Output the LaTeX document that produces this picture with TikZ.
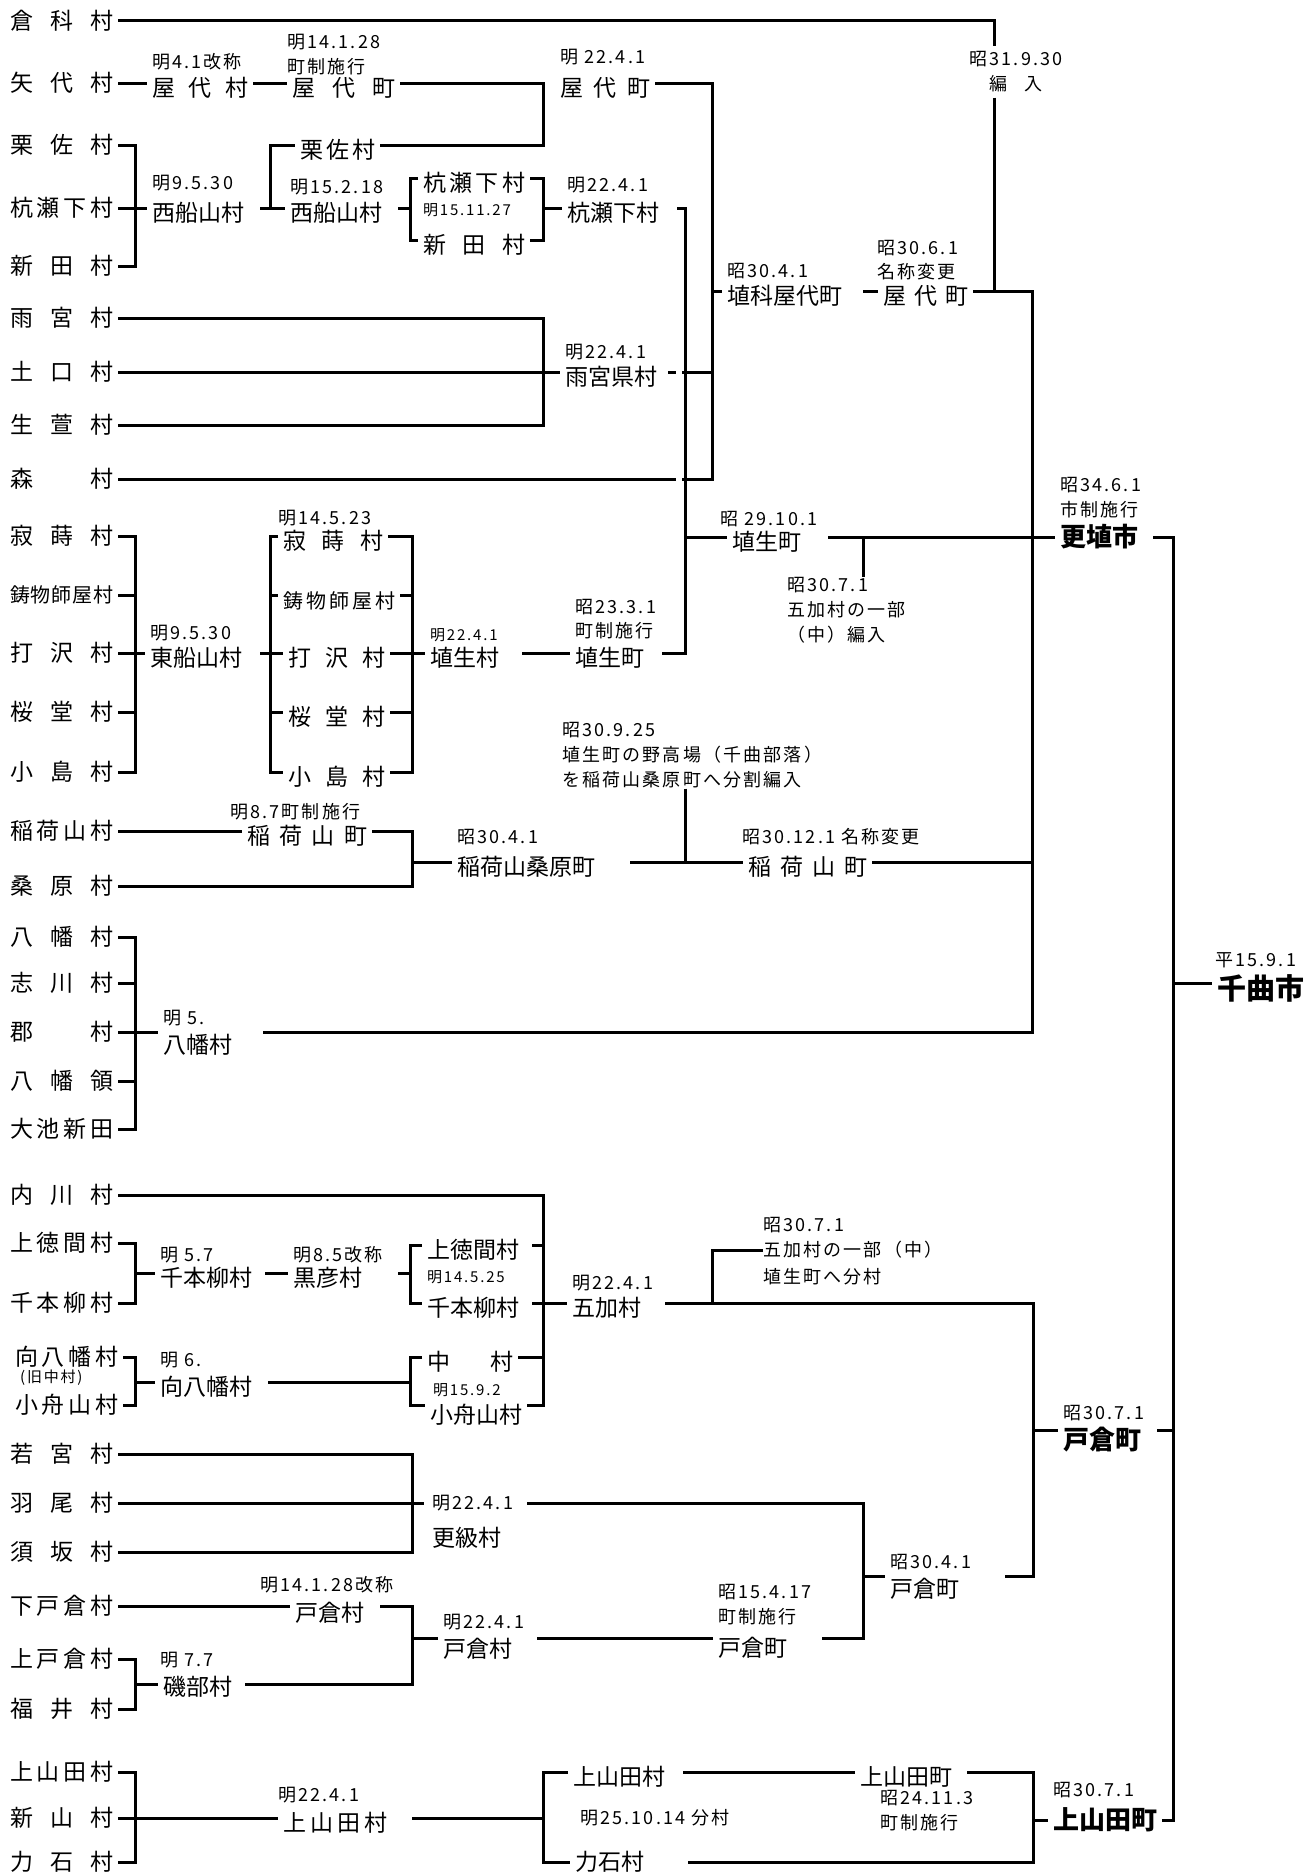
\documentclass[tikz,border=0pt]{standalone}
\usepackage{fontspec}
\setmainfont{Noto Sans CJK JP}
\newfontfamily\hizukefont{Noto Sans CJK JP}[LetterSpace=12]
\newcommand{\hari}[2]{\makebox[#1][s]{#2}}
\newcommand{\aki}[1]{\hspace*{#1pt}}

\tikzset{
  kyu/.style={anchor=west, inner xsep=5pt, inner ysep=0pt, font=\fontsize{23}{23}\selectfont},
  mura/.style={kyu, text height=26pt, text depth=0pt},
  hizuke/.style={anchor=west, inner sep=0pt, font=\hizukefont\fontsize{18}{25}\selectfont},
  kohizuke/.style={hizuke, font=\hizukefont\fontsize{15}{15}\selectfont},
  shi/.style={anchor=west, inner xsep=5pt, inner ysep=0pt, font=\fontsize{26}{26}\selectfont\bfseries},
  sen/.style={line width=3pt}
}

\begin{document}
\begin{tikzpicture}[x=1pt, y=-1pt]
  \useasboundingbox (0,0) rectangle (1311,1876);

  % Altdoerfer
  \node[kyu] (kurashina) at (5,21) {\hari{103pt}{倉\hfill 科\hfill 村}};
  \node[kyu] (yashiro) at (5,83) {\hari{103pt}{矢\hfill 代\hfill 村}};
  \node[kyu] (kurisa) at (5,145) {\hari{103pt}{栗\hfill 佐\hfill 村}};
  \node[kyu] (kuseshimo) at (5,208) {\hari{103pt}{杭\hfill 瀬\hfill 下\hfill 村}};
  \node[kyu] (shinden) at (5,266) {\hari{103pt}{新\hfill 田\hfill 村}};
  \node[kyu] (amemiya) at (5,318) {\hari{103pt}{雨\hfill 宮\hfill 村}};
  \node[kyu] (tokuchi) at (5,372) {\hari{103pt}{土\hfill 口\hfill 村}};
  \node[kyu] (ikusa) at (5,425) {\hari{103pt}{生\hfill 萱\hfill 村}};
  \node[kyu] (mori) at (5,479) {\hari{103pt}{森\hfill 村}};
  \node[kyu] (jakuji) at (5,536) {\hari{103pt}{寂\hfill 蒔\hfill 村}};
  \node[kyu, font=\fontsize{20}{20}\selectfont] (imoji) at (5,595) {\hari{103pt}{鋳\hfill 物\hfill 師\hfill 屋\hfill 村}};
  \node[kyu] (uchisawa) at (5,653) {\hari{103pt}{打\hfill 沢\hfill 村}};
  \node[kyu] (sakurado) at (5,712) {\hari{103pt}{桜\hfill 堂\hfill 村}};
  \node[kyu] (kojima) at (5,772) {\hari{103pt}{小\hfill 島\hfill 村}};
  \node[kyu] (inariyama) at (5,831) {\hari{103pt}{稲\hfill 荷\hfill 山\hfill 村}};
  \node[kyu] (kuwabara) at (5,886) {\hari{103pt}{桑\hfill 原\hfill 村}};
  \node[kyu] (yawata) at (5,937) {\hari{103pt}{八\hfill 幡\hfill 村}};
  \node[kyu] (shikawa) at (5,983) {\hari{103pt}{志\hfill 川\hfill 村}};
  \node[kyu] (kori) at (5,1032) {\hari{103pt}{郡\hfill 村}};
  \node[kyu] (yawataryo) at (5,1081) {\hari{103pt}{八\hfill 幡\hfill 領}};
  \node[kyu] (oike) at (5,1129) {\hari{103pt}{大\hfill 池\hfill 新\hfill 田}};
  \node[kyu] (uchikawa) at (5,1195) {\hari{103pt}{内\hfill 川\hfill 村}};
  \node[kyu] (kamitokuma) at (5,1243) {\hari{103pt}{上\hfill 徳\hfill 間\hfill 村}};
  \node[kyu] (senbon) at (5,1303) {\hari{103pt}{千\hfill 本\hfill 柳\hfill 村}};
  \node[kyu] (mukou) at (10,1357) {\hari{103pt}{向\hfill 八\hfill 幡\hfill 村}};
  \node[kohizuke] (kyunaka) at (20,1378) {(旧中村)};
  \node[kyu] (kobune) at (10,1405) {\hari{103pt}{小\hfill 舟\hfill 山\hfill 村}};
  \node[kyu] (wakamiya) at (5,1454) {\hari{103pt}{若\hfill 宮\hfill 村}};
  \node[kyu] (hao) at (5,1503) {\hari{103pt}{羽\hfill 尾\hfill 村}};
  \node[kyu] (suzaka) at (5,1552) {\hari{103pt}{須\hfill 坂\hfill 村}};
  \node[kyu] (shimotokura) at (5,1606) {\hari{103pt}{下\hfill 戸\hfill 倉\hfill 村}};
  \node[kyu] (kamitokura) at (5,1659) {\hari{103pt}{上\hfill 戸\hfill 倉\hfill 村}};
  \node[kyu] (fukui) at (5,1709) {\hari{103pt}{福\hfill 井\hfill 村}};
  \node[kyu] (kamiyamada) at (5,1772) {\hari{103pt}{上\hfill 山\hfill 田\hfill 村}};
  \node[kyu] (shinyama) at (5,1818) {\hari{103pt}{新\hfill 山\hfill 村}};
  \node[kyu] (chikaraishi) at (5,1862) {\hari{103pt}{力\hfill 石\hfill 村}};

  % Yashiro
  \node[hizuke] at (152,62) {明4.1改称};
  \node[mura] (yashiroM) at (147,83) {\hari{96pt}{屋\hfill 代\hfill 村}};
  \node[hizuke] at (287,42) {明14.1.28};
  \node[hizuke] at (287,67) {町制施行};
  \node[mura] (yashiroT) at (287,83) {\hari{103pt}{屋\hfill 代\hfill 町}};
  \node[hizuke] at (560,57) {明 22.4.1};
  \node[mura] (yashiroT2) at (555,83) {\hari{90pt}{屋\hfill 代\hfill 町}};
  \node[mura] (kurisa2) at (295,145) {\hari{75pt}{栗\hfill 佐\hfill 村}};
  \node[hizuke] at (152,183) {明9.5.30};
  \node[mura] (nishi1) at (147,208) {西船山村\aki{11}};
  \node[hizuke] at (290,187) {明15.2.18};
  \node[mura] (nishi2) at (285,208) {西船山村\aki{11}};
  \node[mura] (kuse2) at (418,178) {\hari{102pt}{杭\hfill 瀬\hfill 下\hfill 村}};
  \node[kohizuke] at (423,210) {明15.11.27};
  \node[mura] (shinden2) at (418,240) {\hari{102pt}{新\hfill 田\hfill 村}};
  \node[hizuke] at (567,185) {明22.4.1};
  \node[mura] (kuse3) at (562,208) {杭瀬下村\aki{13}};
  \node[hizuke] at (565,352) {明22.4.1};
  \node[mura] (amegata) at (560,372) {雨宮県村\aki{6}};
  \node[hizuke] at (727,271) {昭30.4.1};
  \node[mura] (hanishina) at (722,291) {埴科屋代町\aki{16}};
  \node[hizuke] at (877,248) {昭30.6.1};
  \node[hizuke] at (877,272) {名称変更};
  \node[mura] (yashiroT3) at (878,291) {\hari{85pt}{屋\hfill 代\hfill 町}};
  \node[hizuke, align=center, anchor=center, inner ysep=5pt] (hennyu) at (1016,72) {昭31.9.30\\編\quad 入};

  % Hanyu
  \node[hizuke] at (278,518) {明14.5.23};
  \node[mura] (jakuji2) at (278,536) {\hari{100pt}{寂\hfill 蒔\hfill 村}};
  \node[mura, font=\fontsize{20}{20}\selectfont] (imoji2) at (278,595) {\hari{112pt}{鋳\hfill 物\hfill 師\hfill 屋\hfill 村}};
  \node[mura] (uchisawa2) at (283,653) {\hari{97pt}{打\hfill 沢\hfill 村}};
  \node[mura] (sakurado2) at (283,712) {\hari{97pt}{桜\hfill 堂\hfill 村}};
  \node[mura] (kojima2) at (283,772) {\hari{97pt}{小\hfill 島\hfill 村}};
  \node[hizuke] at (150,633) {明9.5.30};
  \node[mura] (higashi) at (145,653) {東船山村\aki{13}};
  \node[kohizuke] at (430,635) {明22.4.1};
  \node[mura] (hanyuM) at (425,653) {埴生村\aki{18}};
  \node[hizuke] at (575,607) {昭23.3.1};
  \node[hizuke] at (575,631) {町制施行};
  \node[mura] (haniT1) at (570,653) {埴生町\aki{13}};
  \node[hizuke] at (720,519) {昭 29.10.1};
  \node[mura] (haniT2) at (727,537) {埴生町\aki{22}};
  \node[hizuke] (gokaHen1) at (787,585) {昭30.7.1};
  \node[hizuke] at (787,610) {五加村の一部};
  \node[hizuke] at (787,635) {（中）編入};
  \node[hizuke] at (1060,485) {昭34.6.1};
  \node[hizuke] at (1060,510) {市制施行};
  \node[shi] (koushoku) at (1055,537) {更埴市\aki{10}};

  % Inariyama
  \node[hizuke] at (230,812) {明8.7町制施行};
  \node[mura] (inariT) at (242,831) {\hari{120pt}{稲\hfill 荷\hfill 山\hfill 町}};
  \node[hizuke] at (457,837) {昭30.4.1};
  \node[mura] (inakuwa) at (452,862) {稲荷山桑原町\aki{30}};
  \node[hizuke] at (562,730) {昭30.9.25};
  \node[hizuke] at (562,755) {埴生町の野高場（千曲部落）};
  \node[hizuke] (nodaka) at (562,780) {を稲荷山桑原町へ分割編入};
  \node[hizuke] at (742,837) {昭30.12.1 名称変更};
  \node[mura] (inariT2) at (743,862) {\hari{119pt}{稲\hfill 荷\hfill 山\hfill 町}};

  % Yawata
  \node[hizuke] at (163,1018) {明 5.};
  \node[mura] (yawata2) at (158,1040) {八幡村\aki{26}};
  \node[hizuke] at (1215,960) {平15.9.1};
  \node[shi, font=\fontsize{29}{29}\selectfont\bfseries] (chikuma) at (1212,988) {千曲市};

  % Goka
  \node[hizuke] at (160,1255) {明 5.7};
  \node[mura] (senbon2) at (155,1273) {千本柳村\aki{8}};
  \node[hizuke] at (293,1255) {明8.5改称};
  \node[mura] (kurohiko) at (288,1273) {黒彦村\aki{31}};
  \node[mura] (kamitokuma2) at (422,1245) {上徳間村\aki{8}};
  \node[kohizuke] at (427,1277) {明14.5.25};
  \node[mura] (senbon3) at (422,1303) {千本柳村\aki{8}};
  \node[hizuke] at (572,1283) {明22.4.1};
  \node[mura] (gokaM) at (567,1303) {五加村\aki{19}};
  \node[hizuke] at (763,1225) {昭30.7.1};
  \node[hizuke] (gokaBun) at (763,1250) {五加村の一部（中）};
  \node[hizuke] at (763,1277) {埴生町へ分村};
  \node[hizuke] at (160,1360) {明 6.};
  \node[mura] (mukou2) at (155,1382) {向八幡村\aki{11}};
  \node[mura] (naka) at (422,1357) {\hari{86pt}{中\hfill 村}};
  \node[kohizuke] at (433,1390) {明15.9.2};
  \node[mura] (kobune2) at (425,1410) {小舟山村};

  % Tokura
  \node[hizuke, inner xsep=8pt] (sarashinaD) at (424,1503) {明22.4.1\aki{6}};
  \node[mura] (sarashina) at (427,1533) {更級村};
  \node[hizuke] at (890,1562) {昭30.4.1};
  \node[mura] (tokuraT2) at (885,1584) {戸倉町\aki{41}};
  \node[hizuke] at (260,1585) {明14.1.28改称};
  \node[mura] (tokuraM) at (290,1608) {戸倉村\aki{11}};
  \node[hizuke] at (160,1660) {明 7.7};
  \node[mura] (isobe) at (158,1682) {磯部村\aki{8}};
  \node[hizuke] at (443,1622) {明22.4.1};
  \node[mura] (tokuraM2) at (438,1644) {戸倉村\aki{20}};
  \node[hizuke] at (718,1592) {昭15.4.17};
  \node[hizuke] at (718,1617) {町制施行};
  \node[mura] (tokuraT1) at (713,1643) {戸倉町\aki{30}};
  \node[hizuke] at (1063,1413) {昭30.7.1};
  \node[shi] (tokuraF) at (1058,1440) {戸倉町\aki{11}};

  % Kamiyamada
  \node[hizuke] at (278,1795) {明22.4.1};
  \node[mura] (yamadaM) at (278,1818) {\hari{104pt}{上\hfill 山\hfill 田\hfill 村}\aki{20}};
  \node[mura] (yamadaM2) at (568,1772) {上山田村\aki{13}};
  \node[hizuke] at (580,1818) {明25.10.14 分村};
  \node[kyu] (chikara2) at (570,1862) {力石村\aki{39}};
  \node[mura] (yamadaT) at (855,1772) {上山田町\aki{10}};
  \node[hizuke] at (880,1798) {昭24.11.3};
  \node[hizuke] at (880,1823) {町制施行};
  \node[hizuke] at (1053,1790) {昭30.7.1};
  \node[shi] (yamadaF) at (1048,1820) {上山田町};

  % Knoten
  \coordinate (kc) at (994,21);
  \coordinate (j30) at (712,291);
  \coordinate (bunki) at (270,208);
  \coordinate (j29) at (685,537);
  \coordinate (jhen) at (863,537);
  \coordinate (j925) at (685,862);
  \coordinate (b5) at (543,1405);
  \coordinate (b6) at (410,1405);
  \coordinate (jbun) at (712,1303);
  \coordinate (b30) at (1033,1576);
  \coordinate (j3041b) at (863,1576);
  \coordinate (b15) at (863,1638);
  \coordinate (j22t) at (412,1638);
  \coordinate (j77) at (135,1684);
  \coordinate (j307) at (1033,1430);
  \coordinate (j307r) at (1173,1430);
  \coordinate (jc) at (1173,983);
  \coordinate (jy) at (1033,1820);

  % Linien Yashiro
  \draw[sen] (kurashina) -| (hennyu.north -| kc);
  \draw[sen] (hennyu.south -| kc) -- (kc |- j30);
  \draw[sen] (yashiro) -- (yashiroM) -- (yashiroT) -- (543,83) |- (kurisa2);
  \draw[sen] (yashiroT2) -| (712,479) -- (mori);
  \draw[sen] (j30) -- (hanishina) -- (yashiroT3) -| (1032,1032) -- (kori -| yawata2.east);
  \draw[sen] (kurisa) -| (135,266) -- (shinden);
  \draw[sen] (kuseshimo) -- (nishi1) -- (nishi2) -- (410,208);
  \draw[sen] (bunki) |- (kurisa2);
  \draw[sen] (kuse2) -| (410,240) -- (shinden2);
  \draw[sen] (kuse2) -| (543,240) -- (shinden2);
  \draw[sen] (543,208) -- (kuse3) -| (685,653) -- (haniT1);
  \draw[sen] (amemiya) -| (543,425) -- (ikusa);
  \draw[sen] (tokuchi) -- (amegata) -- (712,372);

  % Linien Hanyu
  \draw[sen] (jakuji) -| (135,772) -- (kojima);
  \draw[sen] (imoji) -- (135,595);
  \draw[sen] (sakurado) -- (135,712);
  \draw[sen] (uchisawa) -- (higashi) -- (uchisawa2) -- (hanyuM) -- (haniT1);
  \draw[sen] (jakuji2) -| (270,772) -- (kojima2);
  \draw[sen] (jakuji2) -| (412,772) -- (kojima2);
  \draw[sen] (270,595) -- (imoji2) -- (412,595);
  \draw[sen] (270,712) -- (sakurado2) -- (412,712);
  \draw[sen] (j29) -- (haniT2) -- (koushoku) -| (1173,1820) -- (yamadaF);
  \draw[sen] (jhen) -- (jhen |- gokaHen1.north);

  % Linien Inariyama
  \draw[sen] (inariyama) -- (inariT) -- (412,831) |- (kuwabara);
  \draw[sen] (412,862) -- (inakuwa) -- (inariT2) -- (1032,862);
  \draw[sen] (nodaka.south -| j925) -- (j925);

  % Linien Yawata
  \draw[sen] (yawata) -| (135,1129) -- (oike);
  \draw[sen] (shikawa) -- (135,983);
  \draw[sen] (yawataryo) -- (135,1081);
  \draw[sen] (kori) -- (kori -| yawata2.west);
  \draw[sen] (jc) -- (jc -| chikuma.west);

  % Linien Goka
  \draw[sen] (uchikawa) -| (b5) -- (b5 -| kobune2.east);
  \draw[sen] (kamitokuma) -| (135,1303) -- (senbon);
  \draw[sen] (135,1273) -- (senbon2) -- (kurohiko) -- (410,1273);
  \draw[sen] (kamitokuma2) -| (410,1303) -- (senbon3);
  \draw[sen] (kamitokuma2) -- (kamitokuma2 -| b5);
  \draw[sen] (senbon3) -- (gokaM) -| (b30) -- (b30 -| tokuraT2.east);
  \draw[sen] (jbun) |- (gokaBun);
  \draw[sen] (mukou) -| (135,1405) -- (kobune);
  \draw[sen] (135,1382) -- (mukou2) -- (410,1382);
  \draw[sen] (naka) -| (b6) -- (b6 -| kobune2.west);
  \draw[sen] (naka) -- (naka -| b5);

  % Linien Tokura
  \draw[sen] (wakamiya) -| (412,1552) -- (suzaka);
  \draw[sen] (hao) -- (sarashinaD) -| (b15) -- (b15 -| tokuraT1.east);
  \draw[sen] (j3041b) -- (j3041b -| tokuraT2.west);
  \draw[sen] (shimotokura) -- (shimotokura -| tokuraM.west);
  \draw[sen] (shimotokura -| tokuraM.east) -| (412,1684) -- (j77 -| isobe.east);
  \draw[sen] (kamitokura) -| (135,1709) -- (fukui);
  \draw[sen] (j77) -- (j77 -| isobe.west);
  \draw[sen] (j22t) -- (j22t -| tokuraM2.west);
  \draw[sen] (j22t -| tokuraM2.east) -- (j22t -| tokuraT1.west);
  \draw[sen] (j307) -- (j307 -| tokuraF.west);
  \draw[sen] (j307r) -- (j307r -| tokuraF.east);

  % Linien Kamiyamada
  \draw[sen] (kamiyamada) -| (135,1862) -- (chikaraishi);
  \draw[sen] (shinyama) -- (shinyama -| yamadaM.west);
  \draw[sen] (shinyama -| yamadaM.east) -- (543,1818);
  \draw[sen] (yamadaM2) -| (543,1862) -- (chikara2);
  \draw[sen] (yamadaM2) -- (yamadaT) -| (1033,1862) -- (chikara2);
  \draw[sen] (jy) -- (yamadaF);

  % Kreuzungen
  \fill[white] (676,368) rectangle (682,376);
  \fill[white] (676,475) rectangle (682,483);
\end{tikzpicture}
\end{document}
